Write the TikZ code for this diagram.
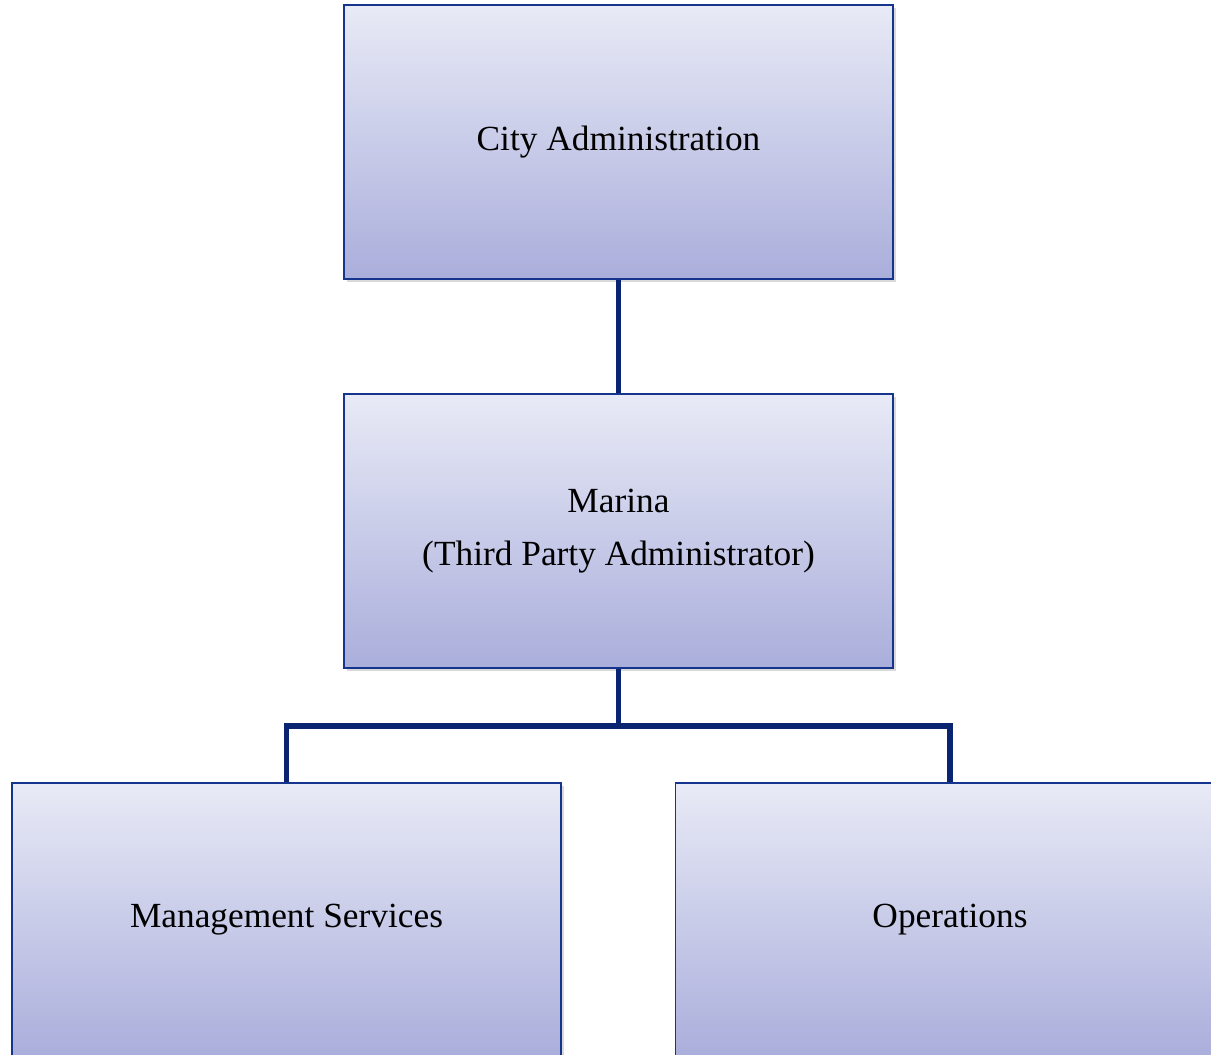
\documentclass[tikz,border=0pt]{standalone}
\usepackage{fontspec}
\setmainfont{Liberation Serif}
\usetikzlibrary{shadows}
\definecolor{boxedge}{HTML}{14348E}
\definecolor{linknavy}{HTML}{0B2472}
\definecolor{shadetop}{HTML}{E8EAF6}
\definecolor{shadebottom}{HTML}{AAAEDB}
\tikzset{
  orgbox/.style={draw=boxedge, line width=1.4pt, rectangle,
    top color=shadetop, bottom color=shadebottom,
    minimum width=411.75pt, minimum height=205.5pt,
    align=center, inner sep=0pt,
    font=\fontsize{26.5}{40}\selectfont,
    drop shadow={shadow xshift=2.2pt, shadow yshift=-2.2pt, opacity=0.25, fill=black!60}},
  orglink/.style={draw=linknavy, line width=3.8pt}
}
\begin{document}
\begin{tikzpicture}[x=0.75pt, y=-0.75pt]
  \useasboundingbox (0,0) rectangle (1211,1055);
  \clip (0,0) rectangle (1211,1055);

  \node[orgbox] (city) at (618.5,142) {City Administration};
  \node[orgbox] (marina) at (618.5,531) {Marina\\(Third Party Administrator)};
  \node[orgbox] (mgmt) at (286.5,920) {Management Services};
  \node[orgbox] (ops) at (950,920) {Operations};

  \coordinate (bar) at (618.5,726);

  \draw[orglink] (city.south) -- (marina.north);
  \draw[orglink] (marina.south) -- (bar);
  \draw[orglink] (mgmt.north) |- (bar) -| (ops.north);
\end{tikzpicture}
\end{document}
